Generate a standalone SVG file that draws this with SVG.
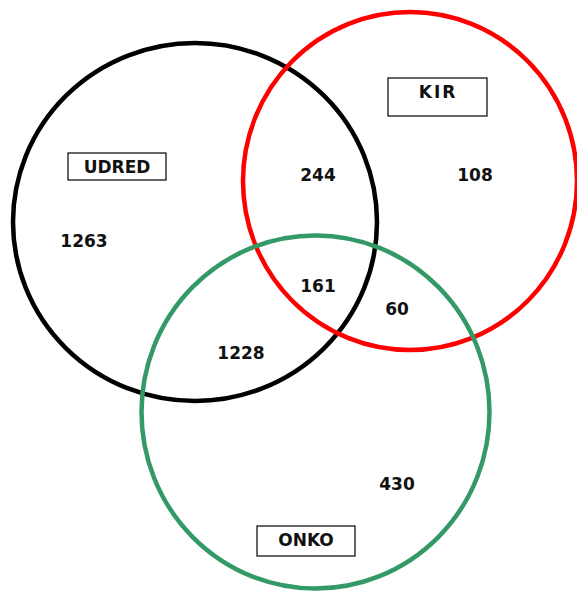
<svg xmlns="http://www.w3.org/2000/svg" width="577" height="592" viewBox="0 0 577 592">
  <style>
    .set { fill: none; stroke-width: 4.5; }
    .lbl { fill: #fff; stroke: #000; stroke-width: 1.2; }
    text { font-family: "DejaVu Sans", Verdana, sans-serif; font-weight: bold; font-size: 17px; fill: #111; text-anchor: middle; }
  </style>
  <rect width="577" height="592" fill="#fff"/>
  <g id="sets">
    <ellipse id="udred-circle" class="set" cx="195" cy="222" rx="182" ry="179" stroke="#000"/>
    <ellipse id="kir-circle" class="set" cx="410" cy="181" rx="167" ry="169" stroke="#ff0000"/>
    <ellipse id="onko-circle" class="set" cx="315.5" cy="412" rx="174" ry="176.5" stroke="#339966"/>
  </g>
  <g id="udred">
    <rect class="lbl" x="68" y="153" width="98" height="27"/>
    <text x="117" y="173">UDRED</text>
  </g>
  <g id="kir">
    <rect class="lbl" x="388" y="78" width="99" height="38"/>
    <text x="438" y="98" letter-spacing="2">KIR</text>
  </g>
  <g id="onko">
    <rect class="lbl" x="257" y="526" width="98" height="30"/>
    <text x="306" y="546">ONKO</text>
  </g>
  <g id="counts">
    <text x="84" y="247">1263</text>
    <text x="318" y="181">244</text>
    <text x="475" y="181">108</text>
    <text x="318" y="292">161</text>
    <text x="397" y="315">60</text>
    <text x="241" y="359">1228</text>
    <text x="397" y="490">430</text>
  </g>
</svg>
